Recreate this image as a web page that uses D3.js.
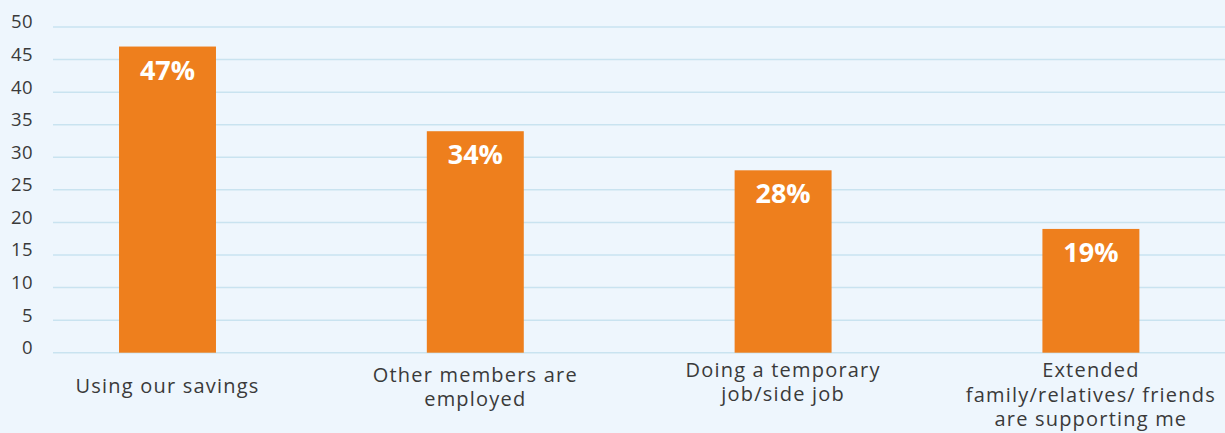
<!DOCTYPE html>
<html>
<head>
<meta charset="utf-8">
<script src="https://cdn.jsdelivr.net/npm/d3@7/dist/d3.min.js"></script>
<style>
  html, body { margin: 0; padding: 0; background: #eef6fd; }
  svg { display: block; }
  text { font-family: "Open Sans", "Noto Sans", sans-serif; }
</style>
</head>
<body>
<svg id="chart" width="1225" height="433"></svg>
<script>
// How households are coping: share of respondents per coping strategy (%)
const categories = [
  ["Using our savings"],
  ["Other members are", "employed"],
  ["Doing a temporary", "job/side job"],
  ["Extended", "family/relatives/ friends", "are supporting me"]
];
const values = [47, 34, 28, 19];
const yTicks = [0, 5, 10, 15, 20, 25, 30, 35, 40, 45, 50];

const W = 1225, H = 433;
const svg = d3.select("#chart");

svg.append("rect").attr("width", W).attr("height", H).attr("fill", "#eef6fd");

const y = d3.scaleLinear().domain([0, 50]).range([352.7, 27]);
const x = d3.scaleBand()
  .domain(d3.range(values.length))
  .range([13.6, 1244.8])
  .paddingInner(0.685)
  .paddingOuter(0.3425);

// gridlines
svg.append("g")
  .selectAll("line")
  .data(yTicks)
  .join("line")
  .attr("x1", 53).attr("x2", W)
  .attr("y1", d => y(d)).attr("y2", d => y(d))
  .attr("stroke", "#c9e3f0")
  .attr("stroke-width", 1.5);

// y axis labels
const yAxis = d3.axisLeft(y).tickValues(yTicks).tickSize(0).tickPadding(0);
const yg = svg.append("g").attr("transform", "translate(33,0)").call(yAxis);
yg.select(".domain").remove();
yg.selectAll("text")
  .attr("dy", "0.05em")
  .attr("font-size", 18.5)
  .attr("fill", "#3a3a3a")
  .style("letter-spacing", "0.4px")
  .style("font-family", "'Open Sans', sans-serif");

// bars
svg.append("g")
  .selectAll("rect")
  .data(values)
  .join("rect")
  .attr("x", (d, i) => x(i))
  .attr("width", x.bandwidth())
  .attr("y", d => y(d))
  .attr("height", d => y(0) - y(d))
  .attr("fill", "#ee7f1d");

// value labels inside bars
svg.append("g")
  .selectAll("text")
  .data(values)
  .join("text")
  .attr("x", (d, i) => x(i) + x.bandwidth() / 2)
  .attr("y", d => y(d) + 33)
  .attr("text-anchor", "middle")
  .attr("font-size", 27)
  .attr("font-weight", 700)
  .attr("fill", "#ffffff")
  .text(d => d + "%");

// category labels below the baseline
const firstBaseline = [393, 381.7, 376.7, 377];
const lineGap = 24.5;
const cat = svg.append("g")
  .selectAll("text")
  .data(categories)
  .join("text")
  .attr("text-anchor", "middle")
  .attr("font-size", 20)
  .attr("fill", "#3a3a3a")
  .style("letter-spacing", "1.2px")
  .attr("x", (d, i) => x(i) + x.bandwidth() / 2)
  .attr("y", (d, i) => firstBaseline[i]);
cat.selectAll("tspan")
  .data((d, i) => d.map(s => ({ s, i })))
  .join("tspan")
  .attr("x", d => x(d.i) + x.bandwidth() / 2)
  .attr("dy", (d, j) => j === 0 ? 0 : lineGap)
  .text(d => d.s);
</script>
</body>
</html>
